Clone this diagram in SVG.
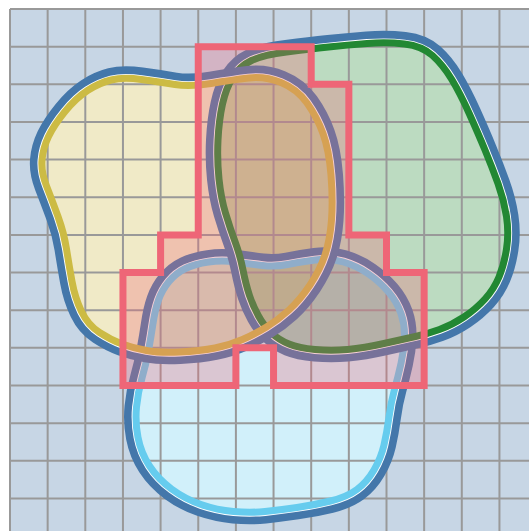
<svg xmlns="http://www.w3.org/2000/svg" xmlns:xlink="http://www.w3.org/1999/xlink" width="529" height="531" viewBox="0 0 529 531">
<style>
.ol{fill:none;stroke:#4477aa;stroke-width:24}
.gap{fill:none;stroke:#ffffff;stroke-width:8.8}
.base{fill:#ffffff;stroke:none}
.grid{fill:none;stroke:#999999;stroke-width:2}
</style>
<defs>
<path id="pY" d="M111,80 Q123,77 141.5,79.5 Q160,82 175,84.5 Q190,87 211,83.5 Q232,80 248.5,78 Q265,76 281,82.5 Q297,89 307,103 Q317,117 323,133.5 Q329,150 331,175 Q333,200 331.5,220 Q330,240 325,255 Q320,270 310,285 Q300,300 289,310 Q278,320 266.5,327 Q255,334 242.5,339.5 Q230,345 215,348 Q200,351 180,352 Q160,353 146.5,350.5 Q133,348 122,344 Q111,340 99.5,332.5 Q88,325 81.5,311.5 Q75,298 72,281.5 Q69,265 66.5,249 Q64,233 58,216.5 Q52,200 46.5,186 Q41,172 42,160 Q43,148 48.5,136.5 Q54,125 65,111.5 Q76,98 87.5,90.5 Q99,83 111,80 Z"/>
<path id="pG" d="M251.5,60.5 Q263,55 286.5,52 Q310,49 328.5,47 Q347,45 367,43.5 Q387,42 404.5,44 Q422,46 432.5,55.5 Q443,65 451.5,79 Q460,93 469,113 Q478,133 485,150 Q492,167 498,183.5 Q504,200 506.5,216.5 Q509,233 506.5,249 Q504,265 499,277 Q494,289 485,299 Q476,309 464,317 Q452,325 439.5,329.5 Q427,334 415.5,336.5 Q404,339 384,343.5 Q364,348 347.5,349.5 Q331,351 315,349.5 Q299,348 289,344 Q279,340 271.5,333 Q264,326 258.5,316 Q253,306 249.5,295.5 Q246,285 243,270 Q240,255 235,241.5 Q230,228 225.5,213 Q221,198 219,179 Q217,160 218,140 Q219,120 222.5,104 Q226,88 233,77 Q240,66 251.5,60.5 Z"/>
<path id="pC" d="M265,511.5 Q250,513 233.5,511.5 Q217,510 201,504.5 Q185,499 171.5,489 Q158,479 149.5,466 Q141,453 138,437.5 Q135,422 136.5,407 Q138,392 142,378 Q146,364 148.5,350.5 Q151,337 153,323.5 Q155,310 158.5,300 Q162,290 169,281.5 Q176,273 185.5,268.5 Q195,264 208.5,262 Q222,260 236,262 Q250,264 262.5,265.5 Q275,267 287.5,264.5 Q300,262 315,260 Q330,258 343.5,262 Q357,266 368.5,274 Q380,282 388.5,292 Q397,302 401,313.5 Q405,325 404.5,337.5 Q404,350 401,363.5 Q398,377 394.5,389.5 Q391,402 389,417 Q387,432 384,445 Q381,458 374,470 Q367,482 357,489.5 Q347,497 330.5,501 Q314,505 297,507.5 Q280,510 265,511.5 Z"/>
<mask id="outY" maskUnits="userSpaceOnUse" x="0" y="0" width="529" height="531"><rect width="529" height="531" fill="#fff"/><use href="#pY" fill="#000"/></mask>
<mask id="outG" maskUnits="userSpaceOnUse" x="0" y="0" width="529" height="531"><rect width="529" height="531" fill="#fff"/><use href="#pG" fill="#000"/></mask>
<mask id="outC" maskUnits="userSpaceOnUse" x="0" y="0" width="529" height="531"><rect width="529" height="531" fill="#fff"/><use href="#pC" fill="#000"/></mask>
</defs>
<rect id="background" x="10" y="9" width="519" height="522" fill="#c7d6e5"/>
<g id="region-fills">
<use href="#pC" class="base"/>
<use href="#pG" class="base"/>
<use href="#pY" class="base"/>
<use href="#pC" fill="#66ccee" fill-opacity="0.3"/>
<use href="#pG" fill="#228833" fill-opacity="0.3"/>
<use href="#pY" fill="#ccbb44" fill-opacity="0.3"/>
</g>
<path id="grid" class="grid" d="M10,9V531M47.65,9V531M85.3,9V531M122.95,9V531M160.6,9V531M198.25,9V531M235.9,9V531M273.55,9V531M311.2,9V531M348.85,9V531M386.5,9V531M424.15,9V531M461.8,9V531M499.45,9V531M10,9H529M10,46.65H529M10,84.3H529M10,121.95H529M10,159.6H529M10,197.25H529M10,234.9H529M10,272.55H529M10,310.2H529M10,347.85H529M10,385.5H529M10,423.15H529M10,460.8H529M10,498.45H529"/>
<g id="region-cyan">
<use href="#pC" class="ol" mask="url(#outC)"/>
<use href="#pC" class="gap" mask="url(#outC)"/>
<use href="#pC" fill="none" stroke="#66ccee" stroke-width="7"/>
</g>
<g id="region-green">
<use href="#pG" class="ol" mask="url(#outG)"/>
<use href="#pG" class="gap" mask="url(#outG)"/>
<use href="#pG" fill="none" stroke="#228833" stroke-width="7"/>
</g>
<g id="region-yellow">
<use href="#pY" class="ol" mask="url(#outY)"/>
<use href="#pY" class="gap" mask="url(#outY)"/>
<use href="#pY" fill="none" stroke="#ccbb44" stroke-width="7"/>
</g>
<g id="detail-area">
<polygon points="198.25,46.65 311.2,46.65 311.2,84.3 348.85,84.3 348.85,234.9 386.5,234.9 386.5,272.55 424.15,272.55 424.15,385.5 273.55,385.5 273.55,347.85 235.9,347.85 235.9,385.5 122.95,385.5 122.95,272.55 160.6,272.55 160.6,234.9 198.25,234.9" fill="#ee6677" fill-opacity="0.3" stroke="#ee6677" stroke-width="7" stroke-linejoin="miter"/>
</g>
</svg>
